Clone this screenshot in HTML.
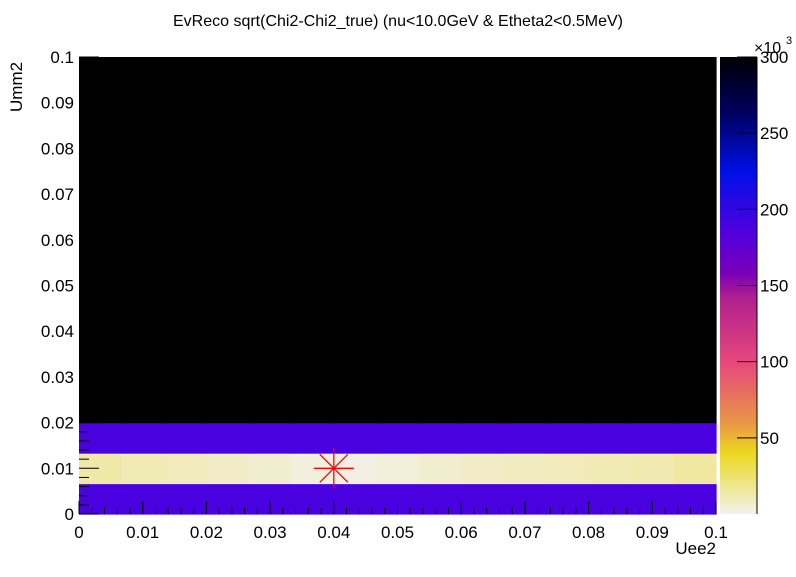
<!DOCTYPE html>
<html><head><meta charset="utf-8"><style>
body{margin:0;background:#fff}
svg text{font-family:"Liberation Sans",Arial,sans-serif;fill:#000}
</style></head><body>
<svg id="c" width="796" height="572" xmlns="http://www.w3.org/2000/svg">
<text x="398" y="26" font-size="16" text-anchor="middle">EvReco sqrt(Chi2-Chi2_true) (nu&lt;10.0GeV &amp; Etheta2&lt;0.5MeV)</text>
<text transform="translate(22,112) rotate(-90)" font-size="17">Umm2</text>
<text x="716" y="554" font-size="17" text-anchor="end">Uee2</text>
<g id="cells"></g><g id="axes"></g><g id="pal"></g>
</svg>
<script>
// data (values in units of 10^3)
const xEdges=[0,0.1]; const nx=15;
const yEdges=[0,0.1]; const ny=15;
const row0=[188,188,188,188,188,188,188,188,188,188,188,188,188,188,188];
const row1=[14,11,10,8,6,3,2,4,6,8,9,10,11,12,15];
const row2=[188,188,188,188,188,188,188,188,188,188,188,188,188,188,188];
const rowRest=[305,305,305,305,305,305,305,305,305,305,305,305,305,305,305];
const xTicks=["0","0.01","0.02","0.03","0.04","0.05","0.06","0.07","0.08","0.09","0.1"];
const yTicks=["0","0.01","0.02","0.03","0.04","0.05","0.06","0.07","0.08","0.09","0.1"];
const zTicks=[50,100,150,200,250,300];
const bestFit=[0.04,0.01];

const NS="http://www.w3.org/2000/svg";
const L=79,R=716,T=57,B=514;
const X=v=>L+(v-xEdges[0])/(xEdges[1]-xEdges[0])*(R-L);
const Y=v=>B-(v-yEdges[0])/(yEdges[1]-yEdges[0])*(B-T);
const zMax=300; const Z=v=>B-v/zMax*(B-T);
const stops=[[0,[242,241,238]],[40,[236,216,32]],[60,[232,150,70]],[99,[232,72,122]],[142,[176,32,143]],[158,[122,0,184]],[186,[78,0,222]],[224,[0,16,232]],[263,[0,0,96]],[300,[0,0,0]]];
function col(v){if(v>=300)return"rgb(0,0,0)";for(let i=1;i<stops.length;i++){if(v<=stops[i][0]){const a=stops[i-1],b=stops[i],t=(v-a[0])/(b[0]-a[0]);return"rgb("+a[1].map((c,k)=>Math.round(c+(b[1][k]-c)*t)).join(",")+")";}}return"#000";}
function el(t,a,p){const e=document.createElementNS(NS,t);for(const k in a)e.setAttribute(k,a[k]);p.appendChild(e);return e;}
const cells=document.getElementById('cells');
const rows=[row0,row1,row2];
const dx=(xEdges[1]-xEdges[0])/nx, dy=(yEdges[1]-yEdges[0])/ny;
for(let j=0;j<ny;j++){const r=rows[j]||rowRest;for(let i=0;i<nx;i++){
 const x0=X(i*dx),x1=X((i+1)*dx),y0=Y((j+1)*dy),y1=Y(j*dy);
 const c=el('rect',{x:x0,y:y0,width:x1-x0+0.6,height:y1-y0+0.6,fill:col(r[i])},cells);
 
 
}}
const ax=document.getElementById('axes');
for(let k=0;k<=50;k++){const v=k*0.002,x=X(v),maj=k%5==0;
 const t=el('line',{x1:x,x2:x,y1:B,y2:B-(maj?13:6),stroke:'#000','stroke-width':1},ax);
 
 const y=Y(v);
 const u=el('line',{x1:L,x2:L+(maj?20:10),y1:y,y2:y,stroke:'#000','stroke-width':1},ax);
 }
xTicks.forEach((s,i)=>{const t=el('text',{x:X(i*0.01),y:B+24,'font-size':17,'text-anchor':'middle'},ax);t.textContent=s;
 });
yTicks.forEach((s,i)=>{const t=el('text',{x:74,y:Y(i*0.01)+6,'font-size':17,'text-anchor':'end'},ax);t.textContent=s;
 });
const mx=X(bestFit[0]),my=Y(bestFit[1]);
const mk=el('g',{stroke:'#f00','stroke-width':1.3},ax);

el('line',{x1:mx-20,x2:mx+20,y1:my,y2:my},mk);el('line',{x1:mx,x2:mx,y1:my-20,y2:my+20},mk);
el('line',{x1:mx-14,x2:mx+14,y1:my-14,y2:my+14},mk);el('line',{x1:mx-14,x2:mx+14,y1:my+14,y2:my-14},mk);
const pal=document.getElementById('pal');
const g=el('defs',{},pal);const lg=el('linearGradient',{id:'pg',x1:0,y1:1,x2:0,y2:0},g);
stops.forEach(s=>el('stop',{offset:s[0]/300,'stop-color':col(s[0])},lg));
const pr=el('rect',{x:720,y:T,width:37,height:B-T,fill:'url(#pg)'},pal);

el('line',{x1:757,x2:757,y1:T,y2:B,stroke:'#000'},pal);
zTicks.forEach(v=>{const y=Z(v);el('line',{x1:737,x2:757,y1:y,y2:y,stroke:'#000'},pal);
 const t=el('text',{x:760,y:y+6,'font-size':17},pal);t.textContent=v;
 });
const ex=el('text',{x:754,y:53,'font-size':16},pal);ex.textContent='×10';

const e3=el('text',{x:786,y:44,'font-size':11},pal);e3.textContent='3';
</script>
</body></html>
